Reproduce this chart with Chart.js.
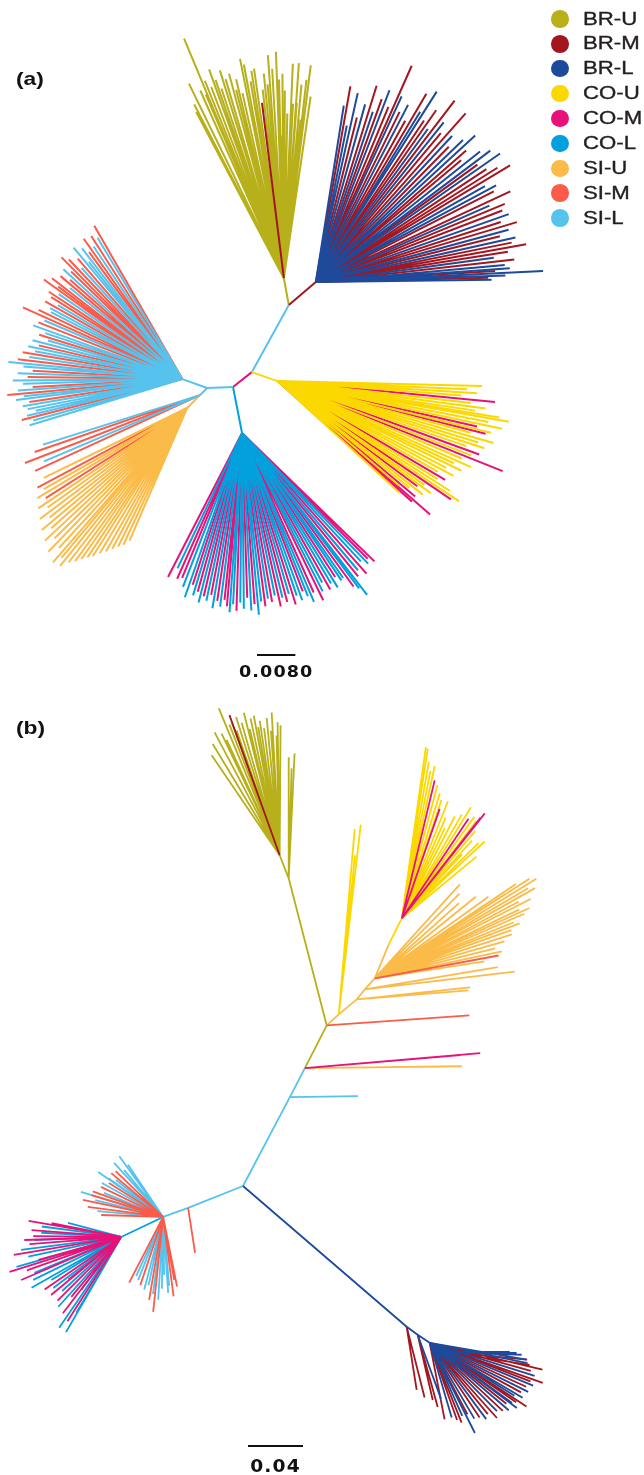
<!DOCTYPE html>
<html>
<head>
<meta charset="utf-8">
<title>Unrooted trees by region and depth</title>
<script src="https://cdn.jsdelivr.net/npm/chart.js@4.4.1/dist/chart.umd.min.js"></script>
<style>
  html, body { margin: 0; padding: 0; background: #fff; }
  #page { position: relative; width: 644px; height: 1475px; overflow: hidden; }
  canvas { position: absolute; left: 0; }
  #treeA { top: 0; }
  #treeB { top: 690px; }
  #legend { position: absolute; left: 551px; top: 6.5px; font-family: "Liberation Sans", Arial, Helvetica, sans-serif; font-size: 18.5px; color: #231f20; }
  .row { position: relative; height: 24.9px; }
  .dot { position: absolute; left: 0; top: 3.7px; width: 17.5px; height: 17.5px; border-radius: 50%; }
  .lab { position: absolute; left: 32px; top: 0; line-height: 24.9px; white-space: nowrap; transform: scaleX(1.2); transform-origin: left center; -webkit-text-stroke: 0.35px #231f20; }
</style>
</head>
<body>
<div id="page">
  <canvas id="treeA" width="644" height="690"></canvas>
  <canvas id="treeB" width="644" height="785"></canvas>
  <div id="legend"></div>
</div>
<script>
// ---- groups (region - depth) ----
const GROUPS = ['BR-U', 'BR-M', 'BR-L', 'CO-U', 'CO-M', 'CO-L', 'SI-U', 'SI-M', 'SI-L'];
const GROUP_COLORS = ['#b7b01b', '#a4161f', '#1d4a9b', '#fbd800', '#e8117a', '#03a0de', '#fbbb48', '#fb5b48', '#56c3ee'];

// Branch lengths are given in units of 0.001 substitutions/site.
const UNIT = 0.001;

// ---- tree (a) ----
// internal branches: [parent node, angle (deg), length, group]; node 0 is the centre
const aBranches = [
  [0, 38.3, 5.0, 'CO-M'],    // 1
  [1, 61.1, 16.0, 'SI-L'],   // 2
  [2, 100.5, 5.7, 'BR-U'],   // 3  BR-U clade
  [2, 40.4, 7.4, 'BR-M'],    // 4  BR-M/L clade
  [1, -19.1, 5.7, 'CO-U'],   // 5  CO-U clade
  [0, 182.2, 5.4, 'SI-L'],   // 6
  [6, 160.2, 5.5, 'SI-L'],   // 7  SI-M/L clade
  [6, 225, 2.1, 'SI-L'],     // 8
  [8, 225, 3.8, 'SI-U'],     // 9  SI-U clade
  [0, -78.9, 9.8, 'CO-L']    // 10 CO-L/M clade
];
// terminal branches: [angle (deg), length, depth code]
const aBrU = [
  [112.6,54.2,'U'],[116.0,45.2,'U'],[117.3,40.8,'U'],[117.8,39.2,'U'],[114.0,42.9,'U'],[113.0,41.7,'U'],
  [111.8,44.4,'U'],[110.8,42.7,'U'],[109.7,46.3,'U'],[109.0,43.8,'U'],[108.2,41.7,'U'],[107.1,45.4,'U'],
  [106.3,43.3,'U'],[105.0,44.2,'U'],[104.2,40.6,'U'],[103.5,42.7,'U'],[102.6,39.6,'U'],[101.3,46.7,'U'],
  [100.6,45.4,'U'],[99.6,41.7,'U'],[98.9,43.8,'U'],[98.1,44.2,'U'],[97.1,36.9,'M'],[96.4,39.6,'U'],
  [95.6,42.9,'U'],[94.8,40.6,'U'],[94.1,46.7,'U'],[93.2,43.8,'U'],[92.0,47.3,'U'],[91.4,41.5,'U'],
  [91.2,29.8,'U'],[90.4,42.7,'U'],[89.7,39.2,'U'],[88.8,34.4,'U'],[87.6,44.8,'U'],[87.0,36.5,'U'],
  [86.0,45.0,'U'],[85.8,36.7,'U'],[84.8,40.6,'U'],[84.0,33.3,'U'],[83.5,41.7,'U'],[82.9,33.8,'U'],
  [82.8,44.8,'U'],[81.6,38.3,'U']
];
const aBrML = [
  [81.0,37.3,'L'],[80.0,41.5,'M'],[78.8,33.3,'L'],[77.5,40.4,'L'],[76.0,35.4,'M'],[74.5,38.5,'L'],
  [72.8,42.9,'M'],[71.5,37.5,'L'],[70.2,40.6,'M'],[69.0,42.9,'L'],[67.5,39.6,'M'],[66.1,49.4,'M'],
  [65.2,42.7,'L'],[63.8,39.6,'M'],[62.5,41.7,'L'],[61.0,38.5,'M'],[59.6,45.6,'M'],[58.5,41.7,'L'],
  [57.6,47.1,'L'],[56.2,40.6,'M'],[55.0,43.8,'M'],[53.8,39.6,'L'],[52.6,47.7,'M'],[51.3,42.7,'L'],
  [50.0,40.6,'M'],[48.4,47.1,'M'],[47.0,41.7,'L'],[45.5,39.6,'M'],[44.0,42.7,'L'],[42.6,45.2,'L'],
  [41.2,41.7,'M'],[40.0,39.6,'M'],[38.5,43.8,'L'],[37.0,45.6,'L'],[36.0,41.7,'M'],[34.9,46.9,'L'],
  [33.5,42.7,'M'],[32.2,44.8,'M'],[31.0,47.3,'M'],[29.6,40.6,'L'],[28.2,42.7,'L'],[27.0,41.7,'M'],
  [25.0,44.8,'M'],[23.8,39.6,'L'],[22.5,42.7,'M'],[21.0,41.7,'M'],[19.4,42.7,'L'],[18.0,40.6,'M'],
  [16.6,43.8,'M'],[15.2,41.7,'L'],[14.0,39.6,'M'],[12.6,42.7,'L'],[11.4,41.7,'M'],[10.2,44.6,'M'],
  [9.0,40.6,'M'],[7.8,37.5,'L'],[6.5,41.7,'M'],[5.2,39.6,'L'],[4.1,40.6,'L'],[3.5,37.5,'M'],
  [2.8,47.5,'L'],[2.0,39.6,'L'],[1.4,36.0,'M'],[0.8,36.7,'L']
];
const aSiML = [
  [119.9,36.9,'M'],[121.0,34.4,'L'],[122.5,35.4,'M'],[123.8,33.3,'L'],[125.1,35.8,'M'],[126.3,32.9,'M'],
  [127.5,34.4,'L'],[128.6,31.3,'L'],[129.6,35.6,'L'],[131.0,33.3,'M'],[132.2,31.3,'L'],[133.5,34.4,'M'],
  [134.8,35.8,'M'],[136.0,32.3,'M'],[137.3,33.8,'L'],[138.5,31.3,'M'],[139.8,33.3,'M'],[141.0,30.2,'L'],
  [142.3,34.4,'M'],[143.3,32.3,'M'],[144.3,35.6,'M'],[145.5,31.3,'L'],[146.8,33.3,'M'],[148.0,32.3,'M'],
  [149.3,30.2,'L'],[150.5,32.9,'M'],[151.8,31.3,'L'],[153.0,30.8,'L'],[154.3,33.3,'M'],[155.8,36.5,'M'],
  [157.0,31.3,'L'],[158.5,32.3,'M'],[160.2,33.1,'L'],[161.5,30.2,'L'],[162.8,31.3,'M'],[164.0,29.2,'L'],
  [165.5,32.3,'L'],[166.8,30.8,'M'],[168.0,32.9,'L'],[169.3,31.3,'L'],[170.5,33.8,'M'],[171.8,32.3,'L'],
  [173.1,34.6,'M'],[174.4,36.5,'L'],[175.5,33.3,'L'],[176.8,31.3,'M'],[178.0,34.4,'L'],[179.2,32.3,'M'],
  [180.5,35.4,'L'],[181.7,33.3,'L'],[183.0,31.3,'M'],[184.0,34.4,'L'],[185.2,36.7,'M'],[186.2,33.3,'L'],
  [187.2,35.0,'L'],[188.5,32.3,'M'],[189.7,33.8,'L'],[191.0,32.9,'L'],[192.2,31.3,'L'],[193.3,33.3,'L'],
  [194.3,34.6,'M'],[195.5,32.3,'L'],[196.8,33.3,'L']
];
const aSiMix = [
  [197.5,34.4,'L'],[199.0,36.5,'M'],[201.2,39.2,'M'],[203.0,35.4,'L'],[204.7,37.9,'M']
];
const aSiU = [
  [206.0,33.3,'U'],[208.0,35.4,'M'],[209.5,34.4,'U'],[211.0,36.5,'U'],[212.5,35.0,'M'],[214.0,37.5,'U'],
  [215.5,35.8,'U'],[217.0,38.5,'U'],[218.5,36.7,'U'],[220.0,39.6,'U'],[221.5,37.9,'U'],[223.0,40.6,'U'],
  [224.5,38.8,'U'],[226.0,41.7,'U'],[227.5,39.6,'U'],[229.0,42.7,'U'],[230.0,40.8,'U'],[231.2,42.3,'U'],
  [232.5,40.6,'U'],[233.8,39.6,'U'],[235.0,38.5,'U'],[236.3,37.5,'U'],[237.5,36.7,'U'],[239.0,35.4,'U'],
  [240.5,34.4,'U'],[242.0,33.3,'U'],[243.5,32.3,'U'],[245.0,31.5,'U'],[246.5,30.2,'U']
];
const aCoU = [
  [-1.4,42.7,'U'],[-2.5,39.6,'U'],[-3.5,41.7,'U'],[-4.5,38.5,'U'],[-5.5,45.6,'M'],[-6.5,40.6,'U'],
  [-7.5,43.8,'U'],[-8.5,41.7,'U'],[-9.3,46.9,'U'],[-10.0,49.0,'U'],[-11.0,44.8,'U'],[-12.0,47.9,'U'],
  [-12.8,42.7,'M'],[-13.6,45.8,'U'],[-14.2,44.8,'M'],[-15.0,41.7,'U'],[-16.0,46.9,'U'],[-17.0,43.8,'U'],
  [-18.0,45.4,'U'],[-19.0,41.7,'U'],[-20.0,44.8,'M'],[-21.0,43.3,'U'],[-21.8,50.6,'M'],[-22.8,41.7,'U'],
  [-24.0,44.2,'U'],[-25.0,40.6,'U'],[-26.0,42.7,'U'],[-27.2,39.6,'U'],[-28.3,41.7,'U'],[-29.5,38.5,'U'],
  [-30.5,40.6,'M'],[-31.5,39.2,'U'],[-32.5,42.7,'U'],[-33.5,45.4,'U'],[-34.3,43.8,'M'],[-35.3,37.5,'U'],
  [-36.2,39.6,'U'],[-37.0,36.5,'M'],[-38.0,38.5,'U'],[-39.0,35.4,'U'],[-40.0,37.5,'M'],[-40.7,33.5,'U'],
  [-41.2,42.3,'M'],[-41.9,37.7,'M'],[-42.5,34.4,'U']
];
const aCoLM = [
  [242.8,33.8,'M'],[244.5,31.3,'L'],[246.0,33.3,'M'],[247.5,32.7,'M'],[249.0,34.4,'L'],[250.8,36.3,'L'],
  [252.0,33.3,'M'],[253.2,35.4,'L'],[254.4,34.4,'M'],[255.6,36.5,'L'],[256.8,35.0,'M'],[258.0,35.8,'L'],
  [259.2,34.4,'M'],[260.4,37.1,'L'],[261.6,35.4,'M'],[262.8,36.5,'L'],[264.0,35.0,'M'],[265.0,36.3,'M'],
  [266.0,37.5,'L'],[267.0,35.8,'L'],[268.2,37.1,'M'],[269.4,35.4,'L'],[270.6,36.7,'L'],[271.8,34.4,'M'],
  [273.0,37.1,'L'],[274.2,35.8,'M'],[275.3,38.1,'L'],[276.5,35.4,'L'],[277.7,36.5,'M'],[278.9,35.0,'L'],
  [280.1,35.8,'M'],[281.4,34.6,'L'],[282.6,37.1,'M'],[283.8,35.4,'L'],[285.0,36.5,'M'],[286.2,35.0,'L'],
  [287.4,37.5,'M'],[288.6,35.8,'L'],[289.8,37.1,'L'],[291.0,35.4,'M'],[292.0,36.7,'L'],[293.1,38.3,'L'],
  [294.2,36.5,'M'],[295.9,38.8,'M'],[297.0,37.1,'L'],[298.2,35.4,'L'],[299.4,37.5,'M'],[300.6,36.5,'L'],
  [301.8,37.9,'L'],[302.9,35.8,'M'],[304.0,37.1,'L'],[304.9,36.9,'L'],[306.0,39.6,'M'],[307.0,40.6,'L'],
  [307.7,42.7,'L'],[309.0,38.5,'M'],[310.2,37.5,'L'],[311.5,39.2,'M'],[312.8,36.5,'L'],[314.0,37.9,'L'],
  [315.0,37.1,'M'],[315.9,38.5,'M']
];
const aScaleLabel = '0.0080';

// ---- tree (b) ----
const bBranches = [
  [0, -40.7, 157.0, 'BR-L'],  // 1
  [1, -36.0, 9.9, 'BR-L'],    // 2
  [2, -33.7, 10.5, 'BR-L'],   // 3
  [3, -31.0, 12.7, 'BR-L'],   // 4
  [0, 62.2, 73.1, 'SI-L'],    // 5
  [5, 62.6, 23.7, 'SI-L'],    // 6
  [6, 62.9, 34.9, 'BR-U'],    // 7
  [7, 104.5, 110.5, 'BR-U'],  // 8
  [8, 111.4, 18.0, 'BR-U'],   // 9  BR-U clade
  [7, 42.5, 11.9, 'SI-U'],    // 10
  [10, 39.8, 17.0, 'SI-U'],   // 11
  [11, 51.3, 9.3, 'SI-U'],    // 12
  [12, 47.7, 10.8, 'SI-U'],   // 13 SI-U clade
  [13, 67.6, 26.8, 'SI-U'],   // 14
  [14, 63.4, 21.1, 'CO-U'],   // 15 CO-U clade
  [0, 201.8, 43.0, 'SI-L'],   // 16
  [16, 199.8, 19.3, 'SI-L'],  // 17 SI-M/L clade
  [17, 205.5, 33.8, 'CO-L']   // 18 CO-L/M clade
];
const bBrA = [[-81.0,46.5,'M'],[-75.8,53.1,'M']];
const bBrB = [[-77.0,48.7,'M'],[-74.5,54.5,'M'],[-70.0,49.4,'L']];
const bBrC = [
  [-79.0,56.7,'M'],[-73.6,56.7,'L'],[-70.5,59.6,'M'],[-68.2,62.5,'M'],[-66.0,58.2,'L'],[-63.4,73.4,'L'],
  [-62.2,58.9,'M'],[-59.5,64.0,'L'],[-56.3,65.4,'M'],[-53.5,69.1,'L'],[-50.8,66.9,'M'],[-48.2,73.4,'M'],
  [-45.5,69.8,'L'],[-43.0,72.7,'M'],[-40.5,75.6,'L'],[-38.5,71.2,'M'],[-36.8,79.2,'L'],[-36.2,74.2,'L'],
  [-34.5,76.3,'M'],[-33.4,84.3,'M'],[-32.0,72.7,'L'],[-30.6,78.5,'L'],[-28.5,75.6,'M'],[-26.5,80.0,'L'],
  [-24.5,77.1,'M'],[-22.5,81.4,'L'],[-21.0,78.5,'M'],[-19.5,87.2,'M'],[-17.5,80.0,'L'],[-15.5,76.3,'M'],
  [-13.4,84.3,'M'],[-11.8,72.7,'L'],[-9.9,71.6,'L']
];
const bBrD = [[0.0,47.3,'L'],[-0.8,52.3,'L'],[-2.2,56.0,'L'],[-5.5,60.3,'M'],[-8.7,62.5,'M']];
const bSiP1 = [[0.8,49.4,'L']];
const bSiP2 = [[0.7,114.1,'U']];
const bCoP2 = [[4.9,128.0,'M'],[4.8,113.4,'M']];
const bSiP3 = [[4.0,104.0,'M']];
const bCoS1 = [[83.4,138.9,'U'],[85.1,135.2,'U'],[84.2,116.3,'U']];
const bSiS2 = [[6.1,82.9,'U'],[4.6,81.4,'U']];
const bSiS3 = [[6.8,109.8,'U'],[9.5,98.1,'U']];
const bSiU = [
  [47.9,92.3,'U'],[45.0,87.2,'U'],[41.8,82.2,'U'],[39.0,94.5,'U'],[35.7,101.8,'U'],[33.8,123.6,'U'],
  [32.9,112.7,'U'],[32.8,133.8,'U'],[31.7,138.1,'U'],[30.5,129.4,'U'],[29.4,133.8,'U'],[28.1,118.5,'U'],
  [27.0,127.2,'U'],[25.5,116.3,'U'],[24.5,123.6,'U'],[23.4,118.5,'U'],[22.0,109.1,'U'],[20.8,112.7,'U'],
  [19.5,105.4,'U'],[17.8,104.7,'U'],[16.0,98.1,'U'],[14.0,90.1,'U'],[12.0,94.5,'U'],[10.5,91.6,'M'],
  [8.8,80.7,'U']
];
const bCoU = [
  [82.0,125.8,'U'],[81.3,125.0,'U'],[80.2,115.6,'U'],[79.0,109.1,'U'],[77.8,113.4,'U'],[81.9,102.5,'U'],
  [76.6,103.2,'M'],[75.0,100.3,'U'],[73.1,95.2,'U'],[71.5,90.9,'U'],[70.9,84.3,'M'],[68.5,91.6,'U'],
  [66.5,80.0,'U'],[64.5,72.7,'U'],[62.5,83.6,'U'],[60.0,87.2,'U'],[58.1,95.2,'U'],[56.2,87.2,'M'],
  [54.5,90.9,'U'],[52.6,89.4,'U'],[52.0,93.1,'M'],[51.7,97.4,'M'],[50.0,82.9,'U'],[48.0,76.3,'U'],
  [46.8,64.0,'U'],[44.5,78.5,'U'],[42.9,82.2,'U'],[39.6,70.5,'U']
];
const bBrU = [
  [124.2,88.0,'U'],[121.0,94.5,'U'],[117.9,101.1,'U'],[115.5,98.1,'U'],[114.7,92.3,'U'],[112.5,115.6,'U'],
  [112.5,106.1,'U'],[111.0,101.8,'U'],[109.8,102.5,'U'],[109.0,96.0,'U'],[107.5,105.4,'U'],
  [106.0,100.3,'U'],[104.1,106.9,'U'],[103.3,94.5,'U'],[102.0,101.8,'U'],[100.5,103.2,'U'],[99.5,94.5,'U'],
  [98.4,98.9,'U'],[97.0,93.1,'U'],[95.4,100.3,'U'],[94.0,90.9,'U'],[93.2,104.0,'U'],[91.5,87.2,'U'],
  [90.9,96.7,'U'],[89.6,94.5,'U'],[109.7,108.3,'M']
];
const bBrUQ = [[87.3,90.9,'U'],[90.0,88.0,'U'],[88.5,80.0,'U']];
const bSiML = [
  [123.9,45.8,'L'],[125.8,54.5,'L'],[129.7,44.3,'L'],[132.2,53.1,'L'],[136.0,48.0,'M'],[139.8,49.4,'M'],
  [142.0,43.6,'L'],[144.7,48.7,'L'],[145.3,57.4,'L'],[148.0,46.5,'M'],[151.0,50.9,'L'],[154.2,50.2,'M'],
  [157.9,46.5,'L'],[160.0,54.5,'M'],[163.0,62.5,'L'],[163.0,54.5,'M'],[166.0,50.9,'L'],[168.0,59.6,'M'],
  [172.4,55.3,'M'],[175.0,48.0,'L'],[178.2,45.1,'M'],
  [242.7,53.8,'M'],[245.5,47.3,'L'],[248.4,49.4,'L'],[251.5,52.3,'M'],[255.4,54.5,'L'],[258.0,50.9,'L'],
  [260.4,61.1,'M'],[262.5,56.7,'L'],[264.0,69.4,'M'],[266.6,60.3,'L'],[269.0,52.3,'L'],[271.0,42.2,'L'],
  [273.8,55.3,'L'],[275.0,50.2,'L'],[277.5,58.2,'M'],[280.0,46.5,'M'],[281.3,51.6,'M']
];
const bSiT0 = [[-81.2,33.1,'M']];
const bCoLM = [
  [165.2,40.0,'L'],[168.7,51.6,'M'],[170.2,68.3,'M'],[172.5,58.2,'L'],[175.6,65.4,'M'],[177.0,58.2,'L'],
  [179.5,64.0,'M'],[181.8,70.5,'M'],[182.0,63.2,'L'],[184.5,66.9,'M'],[187.4,73.4,'L'],[189.5,79.2,'M'],
  [192.0,69.1,'L'],[195.5,62.5,'M'],[196.0,79.2,'L'],[197.4,85.1,'M'],[199.5,72.7,'M'],[202.5,68.3,'L'],
  [203.2,61.1,'M'],[203.3,79.2,'M'],[206.0,71.2,'L'],[209.5,74.9,'L'],[211.6,59.6,'L'],[214.5,67.6,'M'],
  [217.0,61.8,'L'],[219.0,49.4,'M'],[219.6,66.2,'M'],[222.5,58.2,'L'],[225.0,65.4,'M'],[228.0,68.3,'L'],
  [230.2,56.7,'M'],[232.6,69.8,'M'],[233.0,48.0,'L'],[235.7,80.0,'L'],[237.5,72.7,'M'],[239.4,64.0,'L'],
  [239.9,80.0,'L']
];
const bScaleLabel = '0.04';

// ---- legend ----
const legendEl = document.getElementById('legend');
GROUPS.forEach((g, i) => {
  const row = document.createElement('div');
  row.className = 'row';
  const dot = document.createElement('span');
  dot.className = 'dot';
  dot.style.background = GROUP_COLORS[i];
  const lab = document.createElement('span');
  lab.className = 'lab';
  lab.textContent = g;
  row.appendChild(dot);
  row.appendChild(lab);
  legendEl.appendChild(row);
});

// ---- panel letter and scale-bar caption ----
const treeText = {
  id: 'treeText',
  afterDraw(chart, args, o) {
    const ctx = chart.ctx;
    ctx.save();
    ctx.fillStyle = '#111';
    ctx.font = 'bold 19px "Liberation Sans", Arial, Helvetica, sans-serif';
    ctx.textBaseline = 'alphabetic';
    ctx.translate(o.letterAt[0], o.letterAt[1]);
    ctx.scale(1.2, 1);
    ctx.fillText(o.letter, 0, 0);
    ctx.restore();

    const xs = chart.scales.x, ys = chart.scales.y;
    const cx = (xs.getPixelForValue(o.bar[0]) + xs.getPixelForValue(o.bar[0] + o.barLen)) / 2;
    const cy = ys.getPixelForValue(o.bar[1]);
    ctx.save();
    ctx.fillStyle = '#111';
    ctx.font = 'bold ' + o.captionSize + 'px "DejaVu Sans", Verdana, sans-serif';
    ctx.letterSpacing = '1px';
    ctx.textAlign = 'center';
    ctx.textBaseline = 'alphabetic';
    ctx.translate(cx, cy + o.captionGap);
    ctx.scale(1.1, 1);
    ctx.fillText(o.caption, 0, 0);
    ctx.restore();
  }
};

function drawTree(canvasId, spec) {
  const nodes = [[0, 0]];
  const segs = GROUPS.map(() => []);
  const step = (p, ang, len) => {
    const r = ang * Math.PI / 180;
    return [p[0] + len * Math.cos(r), p[1] + len * Math.sin(r)];
  };
  const addSeg = (grp, p, q) => {
    segs[GROUPS.indexOf(grp)].push({ x: p[0], y: p[1] }, { x: q[0], y: q[1] }, { x: q[0], y: null });
  };
  spec.branches.forEach(([parent, ang, len, grp]) => {
    const q = step(nodes[parent], ang, len);
    addSeg(grp, nodes[parent], q);
    nodes.push(q);
  });
  spec.leafSets.forEach(([node, region, rows]) => {
    rows.forEach(([ang, len, depth]) => addSeg(region + '-' + depth, nodes[node], step(nodes[node], ang, len)));
  });

  const canvas = document.getElementById(canvasId);
  const W = canvas.width, H = canvas.height;
  const k = spec.pxPerUnit;
  const [rx, ry] = spec.centrePx;
  const barLen = parseFloat(spec.scaleLabel) / UNIT;
  const bar = [(spec.scaleBarPx[0] - rx) / k, (ry - spec.scaleBarPx[1]) / k];

  const datasets = GROUPS.map((g, i) => ({
    label: g,
    data: segs[i],
    borderColor: GROUP_COLORS[i],
    borderWidth: spec.lineWidth,
    borderCapStyle: 'butt',
    pointRadius: 0,
    spanGaps: false,
    tension: 0,
    fill: false,
    order: spec.drawOrder[i]
  }));
  datasets.push({
    label: 'scale',
    data: [{ x: bar[0], y: bar[1] }, { x: bar[0] + barLen, y: bar[1] }],
    borderColor: '#111',
    borderWidth: 2,
    pointRadius: 0,
    order: -1
  });

  new Chart(canvas, {
    type: 'line',
    data: { datasets },
    options: {
      responsive: false,
      animation: false,
      devicePixelRatio: 1,
      events: [],
      layout: { padding: 0 },
      scales: {
        x: { type: 'linear', display: false, min: -rx / k, max: (W - rx) / k },
        y: { type: 'linear', display: false, min: -(H - ry) / k, max: ry / k }
      },
      plugins: {
        legend: { display: false },
        tooltip: { enabled: false },
        treeText: {
          letter: spec.letter, letterAt: spec.letterAt,
          caption: spec.scaleLabel, captionSize: spec.captionSize, captionGap: spec.captionGap,
          bar, barLen
        }
      }
    },
    plugins: [treeText]
  });
}

// lower "order" values are painted on top
drawTree('treeA', {
  letter: '(a)', letterAt: [16, 85],
  centrePx: [233, 387], pxPerUnit: 4.79, lineWidth: 2,
  scaleLabel: aScaleLabel, scaleBarPx: [257, 655], captionSize: 16, captionGap: 22,
  drawOrder: [3, 2, 1, 1, 3, 2, 2, 2, 1],
  branches: aBranches,
  leafSets: [
    [3, 'BR', aBrU], [4, 'BR', aBrML], [7, 'SI', aSiML], [8, 'SI', aSiMix],
    [9, 'SI', aSiU], [5, 'CO', aCoU], [10, 'CO', aCoLM]
  ]
});

drawTree('treeB', {
  letter: '(b)', letterAt: [16, 44],
  centrePx: [243, 496], pxPerUnit: 1.375, lineWidth: 1.8,
  scaleLabel: bScaleLabel, scaleBarPx: [248, 756], captionSize: 17, captionGap: 26,
  drawOrder: [3, 2, 1, 2, 1, 3, 2, 1, 2],
  branches: bBranches,
  leafSets: [
    [1, 'BR', bBrA], [2, 'BR', bBrB], [3, 'BR', bBrC], [4, 'BR', bBrD],
    [5, 'SI', bSiP1], [6, 'SI', bSiP2], [6, 'CO', bCoP2], [7, 'SI', bSiP3],
    [10, 'CO', bCoS1], [11, 'SI', bSiS2], [12, 'SI', bSiS3], [13, 'SI', bSiU],
    [15, 'CO', bCoU], [9, 'BR', bBrU], [8, 'BR', bBrUQ],
    [17, 'SI', bSiML], [16, 'SI', bSiT0], [18, 'CO', bCoLM]
  ]
});
</script>
</body>
</html>
